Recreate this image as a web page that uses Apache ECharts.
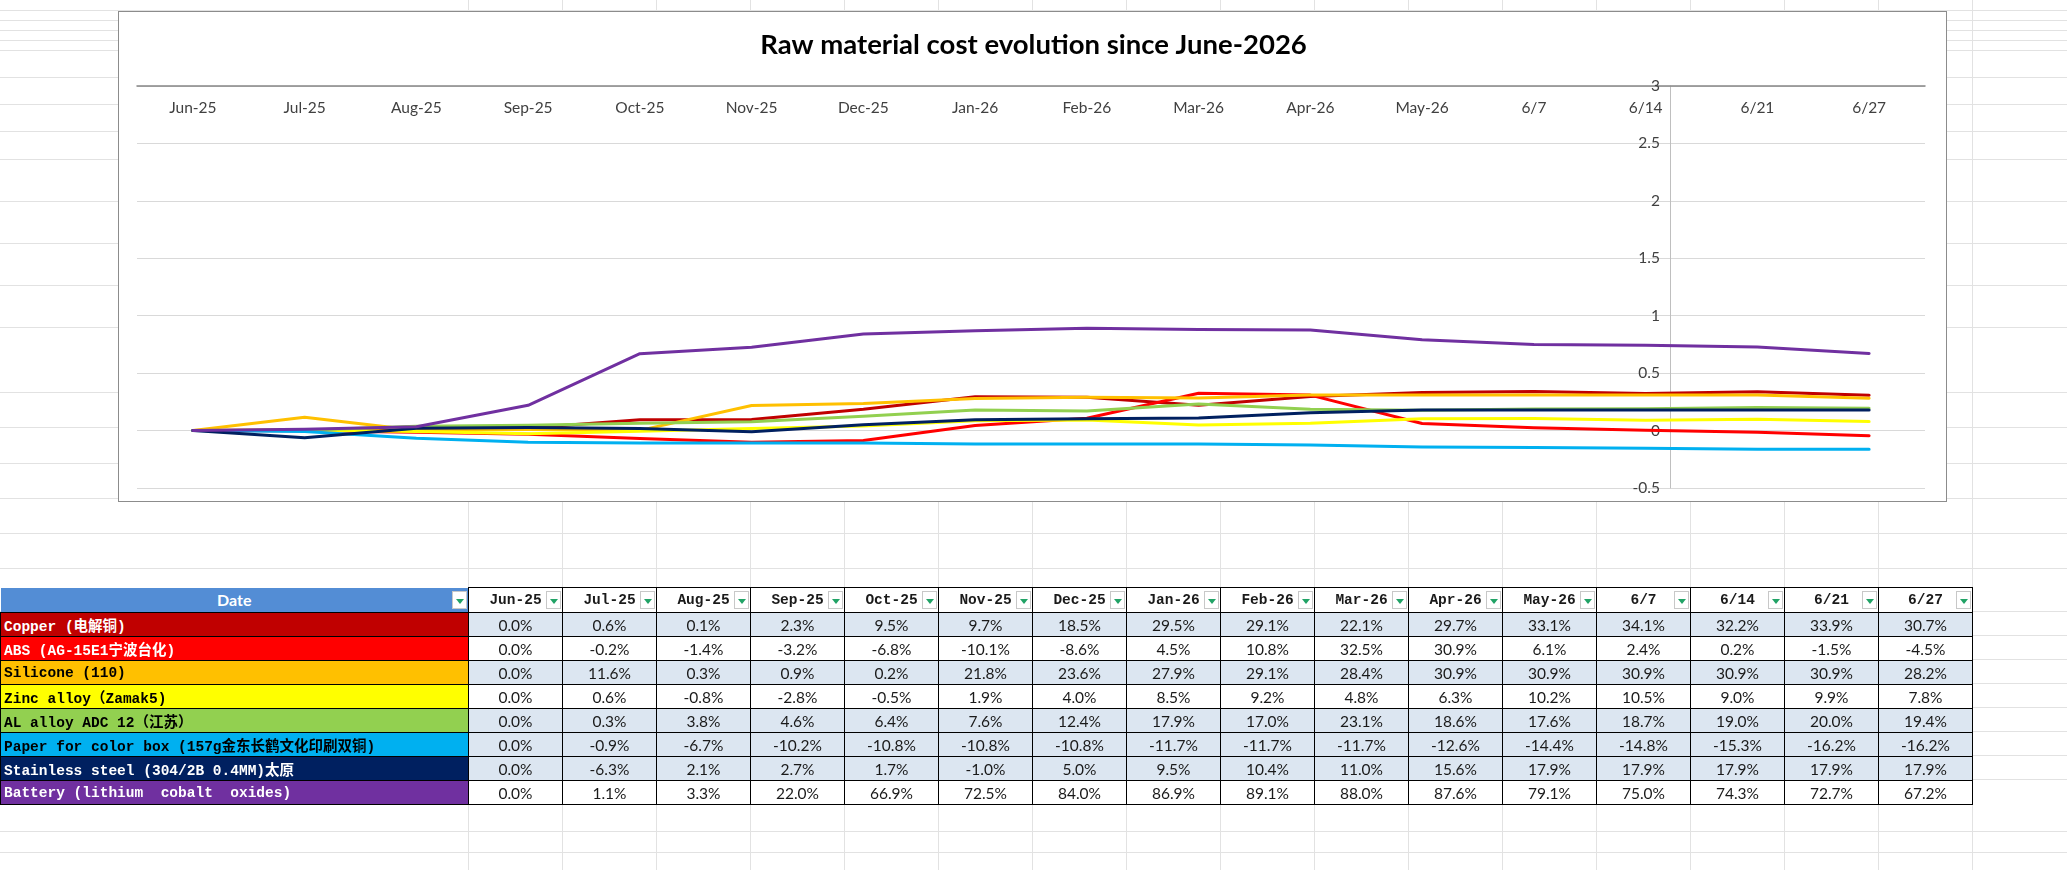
<!DOCTYPE html>
<html>
<head>
<meta charset="utf-8">
<script src="https://cdn.jsdelivr.net/npm/echarts@6.0.0/dist/echarts.min.js"></script>
<style>
  html, body { margin: 0; padding: 0; background: #fff; }
  #page { position: relative; width: 2067px; height: 870px; overflow: hidden; }
  .gl-h { position: absolute; left: 0; width: 2067px; height: 1px; background: #e2e2e2; }
  .gl-v { position: absolute; top: 0; height: 870px; width: 1px; background: #e2e2e2; }
  #frame { position: absolute; left: 118px; top: 11px; width: 1827px; height: 489px;
           background: #fff; border: 1.5px solid #8c8c8c; }
  #chart { position: absolute; left: 0; top: 0; width: 2067px; height: 870px; }
  #tbl { position: absolute; left: 0; top: 587px; border-collapse: collapse; table-layout: fixed; }
  #tbl td, #tbl th { border: 1px solid #000; padding: 0; height: 23px; text-align: center;
                     font-family: Lato, "Noto Sans", sans-serif; font-size: 15.5px; color: #1a1a1a;
                     white-space: pre; overflow: hidden; }
  #tbl th { position: relative; height: 24px; background: #fff;
            font-family: "Liberation Mono", "Noto Sans CJK SC", monospace; font-weight: bold; font-size: 14.5px; }
  #tbl th.date { background: #538dd5; color: #fff; font-family: Lato, sans-serif; font-size: 16px;
                 border-top: none; border-left: none; }
  #tbl td.name { text-align: left; padding-left: 3px; font-family: "Liberation Mono", "Noto Sans CJK SC", monospace;
                 font-weight: bold; font-size: 14.5px; }
  .dd { position: absolute; right: 1px; top: 3px; width: 15px; height: 18px; background: #fff;
        border: 1px solid #c8c8c8; box-sizing: border-box; }
  .dd::after { content: ""; position: absolute; left: 3px; top: 7px; border-left: 4px solid transparent;
               border-right: 4px solid transparent; border-top: 5px solid #21a366; }
</style>
</head>
<body>
<div id="page">
  <div id="sheet"></div>
  <div id="frame"></div>
  <div id="chart"></div>
  <table id="tbl"></table>
</div>
<script>
// categories
const months = ['Jun-25', 'Jul-25', 'Aug-25', 'Sep-25', 'Oct-25', 'Nov-25', 'Dec-25', 'Jan-26',
                'Feb-26', 'Mar-26', 'Apr-26', 'May-26', '6/7', '6/14', '6/21', '6/27'];

// values in percent
const copper    = [0.0, 0.6, 0.1, 2.3, 9.5, 9.7, 18.5, 29.5, 29.1, 22.1, 29.7, 33.1, 34.1, 32.2, 33.9, 30.7];
const abs       = [0.0, -0.2, -1.4, -3.2, -6.8, -10.1, -8.6, 4.5, 10.8, 32.5, 30.9, 6.1, 2.4, 0.2, -1.5, -4.5];
const silicone  = [0.0, 11.6, 0.3, 0.9, 0.2, 21.8, 23.6, 27.9, 29.1, 28.4, 30.9, 30.9, 30.9, 30.9, 30.9, 28.2];
const zinc      = [0.0, 0.6, -0.8, -2.8, -0.5, 1.9, 4.0, 8.5, 9.2, 4.8, 6.3, 10.2, 10.5, 9.0, 9.9, 7.8];
const alAlloy   = [0.0, 0.3, 3.8, 4.6, 6.4, 7.6, 12.4, 17.9, 17.0, 23.1, 18.6, 17.6, 18.7, 19.0, 20.0, 19.4];
const paper     = [0.0, -0.9, -6.7, -10.2, -10.8, -10.8, -10.8, -11.7, -11.7, -11.7, -12.6, -14.4, -14.8, -15.3, -16.2, -16.2];
const stainless = [0.0, -6.3, 2.1, 2.7, 1.7, -1.0, 5.0, 9.5, 10.4, 11.0, 15.6, 17.9, 17.9, 17.9, 17.9, 17.9];
const battery   = [0.0, 1.1, 3.3, 22.0, 66.9, 72.5, 84.0, 86.9, 89.1, 88.0, 87.6, 79.1, 75.0, 74.3, 72.7, 67.2];

const names = ['Copper (电解铜)', 'ABS (AG-15E1宁波台化)', 'Silicone (110)', 'Zinc alloy（Zamak5)',
               'AL alloy ADC 12（江苏）', 'Paper for color box (157g金东长鹤文化印刷双铜)',
               'Stainless steel (304/2B 0.4MM)太原', 'Battery (lithium  cobalt  oxides)'];
const seriesData = [copper, abs, silicone, zinc, alAlloy, paper, stainless, battery];

// y axis ticks
const yMin = -0.5, yMax = 3, yStep = 0.5;

// styles
const colors = ['#c00000', '#ff0000', '#ffc000', '#ffff00', '#92d050', '#00b0f0', '#002060', '#7030a0'];
const nameText = ['#fff', '#fff', '#000', '#000', '#000', '#000', '#fff', '#fff'];
const rowShade = ['#dce6f1', '#fff', '#dce6f1', '#fff', '#dce6f1', '#dce6f1', '#dce6f1', '#fff'];

// excel sheet gridlines (background)
const sheet = document.getElementById('sheet');
[10, 20, 30, 40, 50, 77, 104, 131, 159, 201, 243, 285, 327, 392, 427, 463, 498, 533, 568,
 611, 635, 659, 683, 707, 731, 755, 779, 831, 852].forEach(y => {
  const d = document.createElement('div'); d.className = 'gl-h'; d.style.top = y + 'px'; sheet.appendChild(d);
});
for (let x = 468; x <= 1972; x += 94) {
  const d = document.createElement('div'); d.className = 'gl-v'; d.style.left = x + 'px'; sheet.appendChild(d);
}

// table
const tbl = document.getElementById('tbl');
let html = '<colgroup><col style="width:468px">' + months.map(() => '<col style="width:94px">').join('') + '</colgroup>';
html += '<tr><th class="date">Date<span class="dd"></span></th>' +
        months.map(m => '<th>' + m + '<span class="dd"></span></th>').join('') + '</tr>';
names.forEach((n, i) => {
  html += '<tr><td class="name" style="background:' + colors[i] + ';color:' + nameText[i] + '">' + n + '</td>' +
          seriesData[i].map(v => '<td style="background:' + rowShade[i] + '">' + v.toFixed(1) + '%</td>').join('') + '</tr>';
});
tbl.innerHTML = html;

// chart
const chart = echarts.init(document.getElementById('chart'));
chart.setOption({
  animation: false,
  title: {
    text: 'Raw material cost evolution since June-2026',
    left: 'center', top: 26,
    textStyle: { fontFamily: 'Lato', fontWeight: 'bold', fontSize: 27.5, color: '#000' }
  },
  grid: { left: 137, right: 142, top: 86, bottom: 382 },
  xAxis: {
    type: 'category', position: 'top', data: months, boundaryGap: true,
    axisLine: { onZero: false, lineStyle: { color: '#868686', width: 1.5 } },
    axisTick: { show: false },
    axisLabel: { inside: true, margin: 14, fontFamily: 'Lato', fontSize: 15.5, color: '#404040' }
  },
  yAxis: {
    type: 'value', min: yMin, max: yMax, interval: yStep,
    position: 'left', offset: -1533,
    axisLine: { show: true, lineStyle: { color: '#bfbfbf', width: 1 } },
    axisTick: { show: false },
    axisLabel: { margin: 10, fontFamily: 'Lato', fontSize: 15.5, color: '#404040' },
    splitLine: { lineStyle: { color: '#d9d9d9', width: 1.2 } }
  },
  series: seriesData.map((d, i) => ({
    type: 'line', name: names[i], data: d.map(v => v / 100),
    symbol: 'none', smooth: false,
    lineStyle: { color: colors[i], width: 3, join: 'round', cap: 'round' },
    itemStyle: { color: colors[i] }
  }))
});
</script>
</body>
</html>
